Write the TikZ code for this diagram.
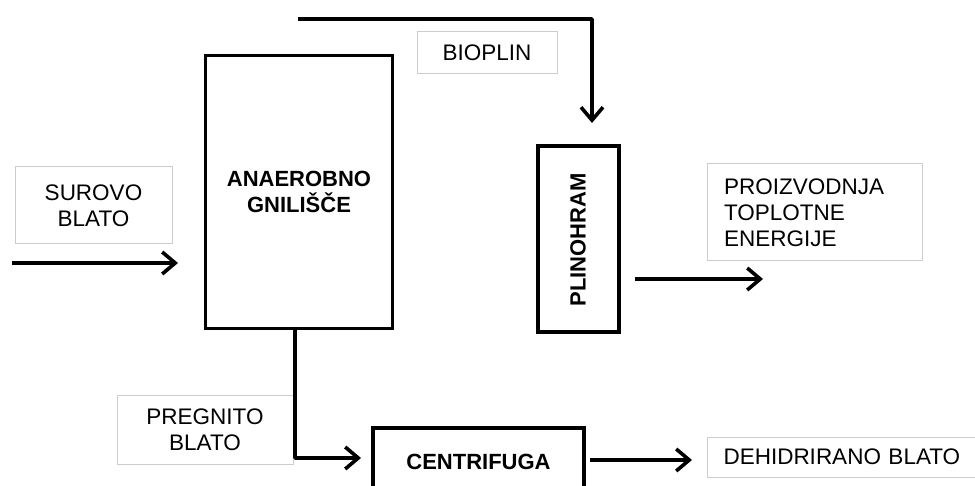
\documentclass[tikz,border=0pt]{standalone}
\usepackage{fontspec}
\setmainfont{Liberation Sans}
\usetikzlibrary{arrows.meta,calc}
\definecolor{lblgray}{HTML}{CCCCCC}
\begin{document}
\begin{tikzpicture}[x=1pt,y=-1pt,
  font=\fontsize{22.5}{26}\selectfont,
  procbox/.style={draw=black,line width=3.8pt,inner sep=0pt,align=center,font=\fontsize{22}{26}\selectfont\bfseries},
  lblbox/.style={draw=lblgray,line width=1pt,inner sep=0pt,align=center},
  flow/.style={line width=3.6pt,-{Straight Barb[length=13pt,width=22pt]}}
]
\useasboundingbox (0,0) rectangle (975,486);
\clip (0,0) rectangle (975,486);
% process boxes
\node[procbox,minimum width=187pt,minimum height=273pt] (anaer) at (299,192) {ANAEROBNO\\GNILIŠČE};
\node[procbox,minimum width=81pt,minimum height=186pt] (plino) at (578.5,239) {};
\node[font=\fontsize{22}{26}\selectfont\bfseries,rotate=90] (plinotxt) at (578,240) {PLINOHRAM};
\node[procbox,minimum width=211pt,minimum height=68pt] (centri) at (478.5,462) {CENTRIFUGA};
% label boxes
\node[lblbox,minimum width=157pt,minimum height=77pt] (surovo) at (93.5,205.5) {SUROVO\\BLATO};
\node[lblbox,minimum width=140pt,minimum height=42pt] (bioplin) at (487,53) {BIOPLIN};
\node[lblbox,minimum width=176pt,minimum height=69pt] (pregnito) at (205,429.5) {PREGNITO\\BLATO};
\node[lblbox,align=left,text width=181pt,inner xsep=17pt,minimum height=97pt] (proiz) at (814.5,212.5) {PROIZVODNJA\\TOPLOTNE\\ENERGIJE};
\node[lblbox,anchor=west,minimum height=40pt,inner xsep=16pt,text width=280pt,align=left] (dehid) at (707,457) {DEHIDRIRANO BLATO};
% connector end points
\coordinate (gasin) at (298,19);
\coordinate (gastip) at (592,123);
\coordinate (rawin) at (12,263);
\coordinate (rawtip) at (178,263);
\coordinate (heatin) at (635,279);
\coordinate (heattip) at (763,279);
\coordinate (digtip) at (361,458);
\coordinate (dewin) at (590,460);
\coordinate (dewtip) at (692,460);
% connectors
\draw[flow,line join=round] (gasin) -| (gastip);
\draw[flow] (rawin) -- (rawtip);
\draw[flow] (heatin) -- (heattip);
\draw[flow,line join=round] ([xshift=-4pt]anaer.south) |- (digtip);
\draw[flow] (dewin) -- (dewtip);
\end{tikzpicture}
\end{document}
